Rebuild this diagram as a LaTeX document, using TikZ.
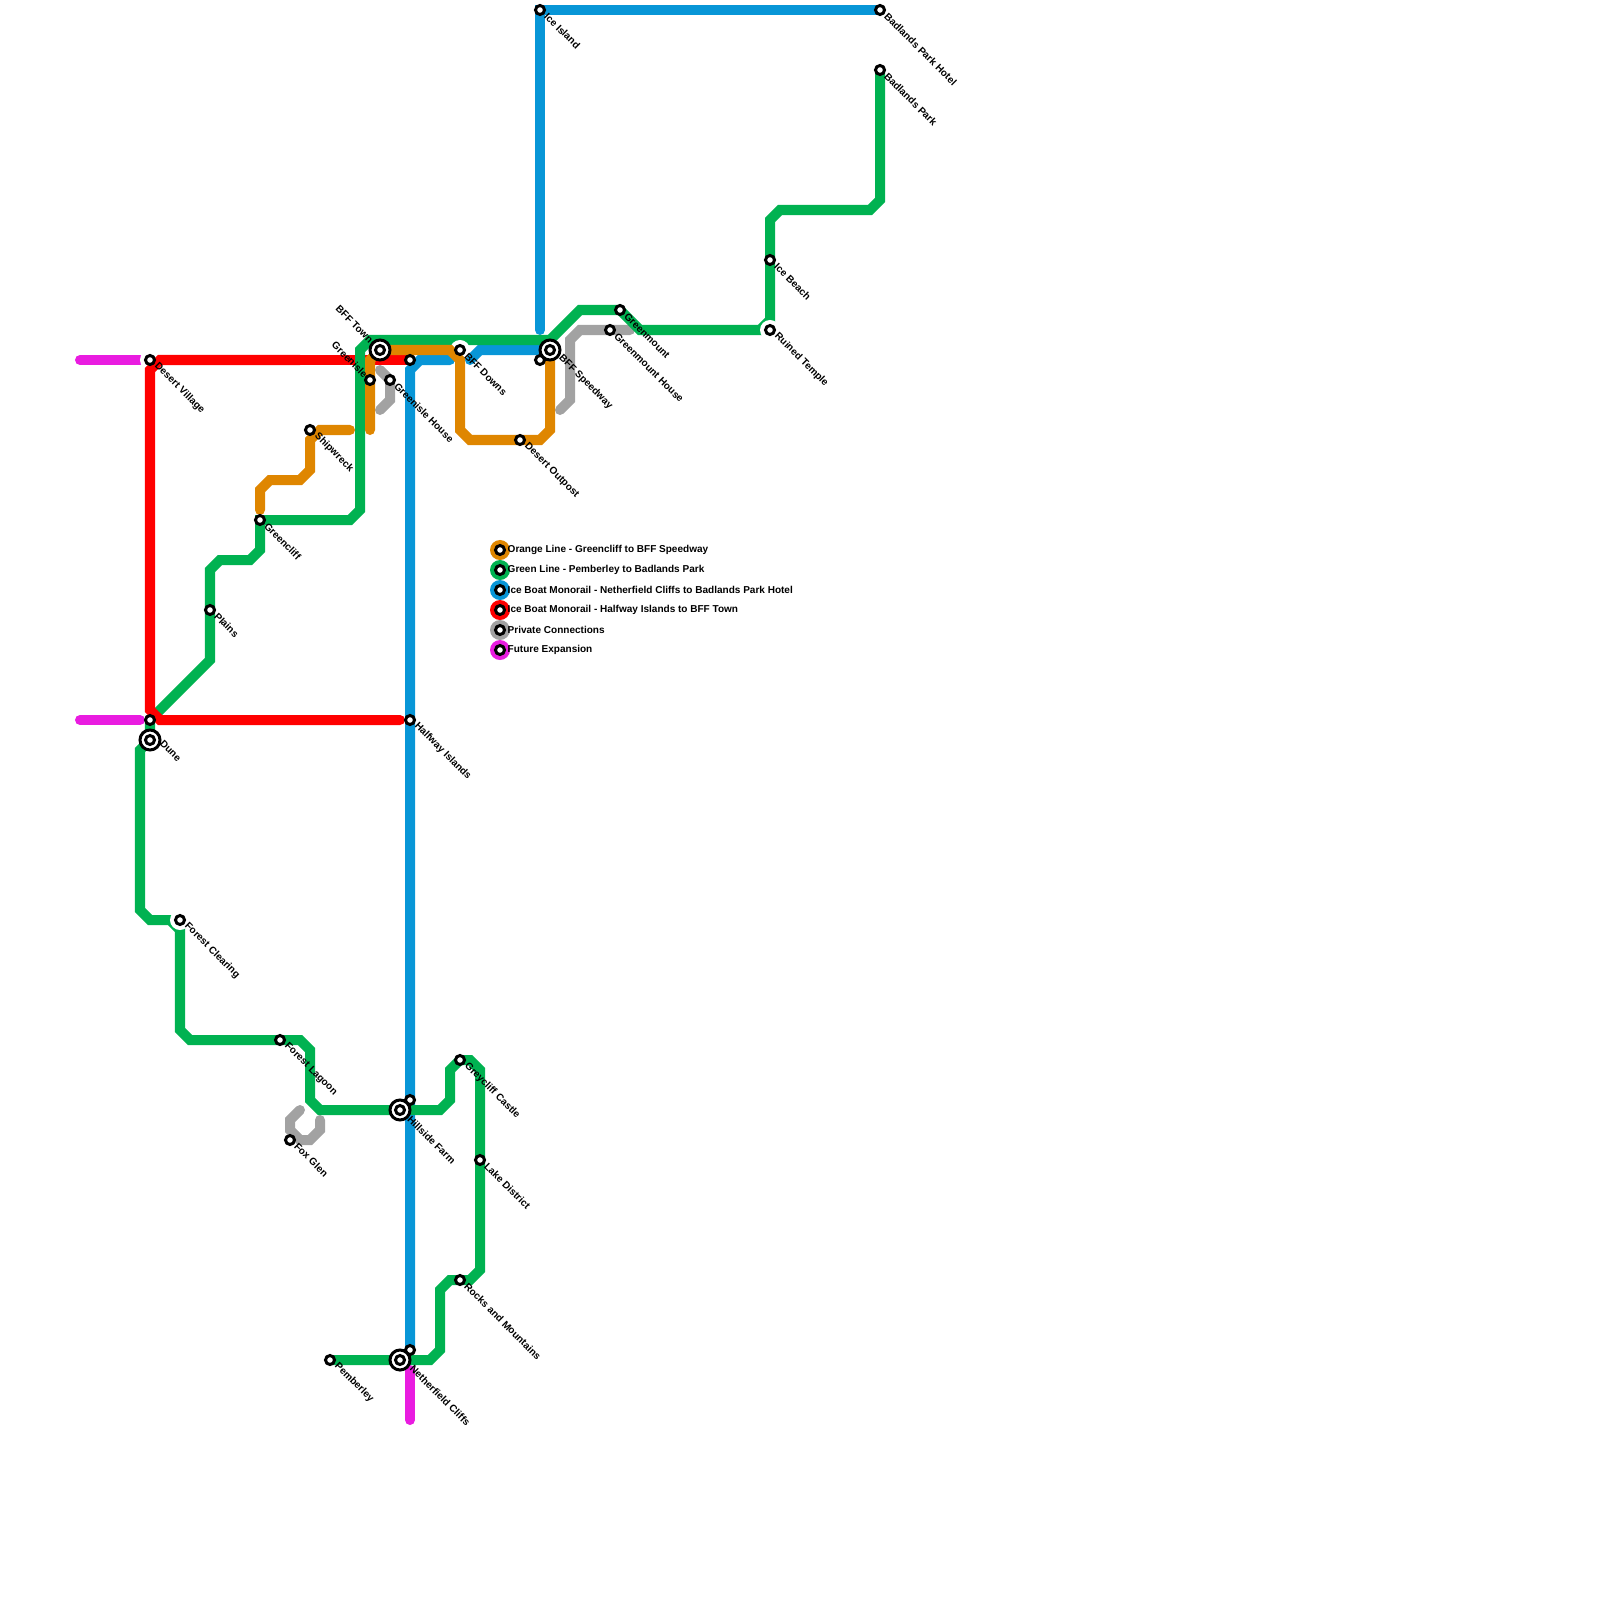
\documentclass[tikz,border=0pt]{standalone}
\usepackage{fontspec}
\setmainfont{Liberation Sans}
\usetikzlibrary{backgrounds}
\definecolor{orangeln}{HTML}{DF8600}
\definecolor{greenln}{HTML}{00B251}
\definecolor{blueln}{HTML}{0896D7}
\definecolor{redln}{HTML}{FF0000}
\definecolor{grayln}{HTML}{A2A2A2}
\definecolor{pinkln}{HTML}{E91CE0}
\tikzset{
  stn/.style={circle, draw=black, fill=white, line width=0.03cm,
              inner sep=0pt, minimum size=0.09cm},
  bigstn/.style={circle, draw=black, fill=white, line width=0.03cm,
              inner sep=0pt, minimum size=0.2cm},
  keydot/.style={circle, fill=#1, inner sep=0pt, minimum size=0.2cm},
  stnlabel/.style={font=\fontsize{2.85}{3.4}\selectfont\bfseries, inner sep=0pt,
              rotate=-45, anchor=west, xshift=0.07cm, yshift=0.01cm},
  stnlabelb/.style={font=\fontsize{2.85}{3.4}\selectfont\bfseries, inner sep=0pt,
              rotate=-45, anchor=east},
  keylabel/.style={font=\fontsize{2.85}{3.4}\selectfont\bfseries, inner sep=0pt,
              anchor=west, xshift=0.07cm},
  halo/.style={circle, fill=white, inner sep=0pt, minimum size=0.2cm},
  ln/.style={line width=0.1cm, line cap=round},
}
\begin{document}
\begin{tikzpicture}[x=0.01cm, y=-0.01cm]
    \useasboundingbox (0,0) rectangle (1600,1600);
    %% stations
    \node[stn] (desertvillage) at (150,360) {};
    \node[stn] (halfway) at (410,720) {};
    \node[stn] (dunetop) at (150,720) {};
    \node[bigstn] (dune) at (150,740) {};
    \node[stn] (dunein) at (150,740) {};
    \node[stn] (plains) at (210,610) {};
    \node[stn] (greencliff) at (260,520) {};
    \node[stn] (shipwreck) at (310,430) {};
    \node[bigstn] (bfftown) at (380,350) {};
    \node[stn] (bfftownin) at (380,350) {};
    \node[stn] (greenisle) at (370,380) {};
    \node[stn] (greenislehouse) at (390,380) {};
    \node[stn] (bfftownblue) at (410,360) {};
    \node[stn] (bffdowns) at (460,350) {};
    \node[stn] (desertoutpost) at (520,440) {};
    \node[stn] (speedwayblue) at (540,360) {};
    \node[bigstn] (speedway) at (550,350) {};
    \node[stn] (speedwayin) at (550,350) {};
    \node[stn] (iceisland) at (540,10) {};
    \node[stn] (hotel) at (880,10) {};
    \node[stn] (badlands) at (880,70) {};
    \node[stn] (icebeach) at (770,260) {};
    \node[stn] (ruined) at (770,330) {};
    \node[stn] (greenmount) at (620,310) {};
    \node[stn] (greenmounthouse) at (610,330) {};
    \node[stn] (forestclearing) at (180,920) {};
    \node[stn] (forestlagoon) at (280,1040) {};
    \node[stn] (foxglen) at (290,1140) {};
    \node[stn] (hillsideblue) at (410,1100) {};
    \node[bigstn] (hillside) at (400,1110) {};
    \node[stn] (hillsidein) at (400,1110) {};
    \node[stn] (greycliff) at (460,1060) {};
    \node[stn] (lakedistrict) at (480,1160) {};
    \node[stn] (rocks) at (460,1280) {};
    \node[stn] (netherblue) at (410,1350) {};
    \node[bigstn] (nether) at (400,1360) {};
    \node[stn] (netherin) at (400,1360) {};
    \node[stn] (pemberley) at (330,1360) {};
    %% free line ends
    \coordinate (pinkw) at (80,360);
    \coordinate (pinkww) at (80,720);
    \coordinate (pinke) at (140,360);
    \coordinate (pinkee) at (140,720);
    \coordinate (pinkn) at (410,1370);
    \coordinate (pinks) at (410,1420);
    \coordinate (redmid) at (300,360);
    \coordinate (redend) at (400,720);
    \coordinate (orangea) at (350,430);
    \coordinate (orangeb) at (260,510);
    \coordinate (orangec) at (370,430);
    \coordinate (grayb) at (380,370);
    \coordinate (grayc) at (380,410);
    \coordinate (grayd) at (560,410);
    \coordinate (graye) at (630,330);
    \coordinate (grayf) at (300,1110);
    \coordinate (grayg) at (320,1120);
    \coordinate (bluea) at (540,330);
    \coordinate (blueb) at (450,360);
    \coordinate (bluec) at (470,360);
    %% lines, behind the stations
    \begin{pgfonlayer}{background}
      \draw[ln, pinkln] (pinkw)--(pinke);
      \draw[ln, pinkln] (pinkww)--(pinkee);
      \draw[ln, pinkln] (pinkn)--(pinks);
      \draw[ln, grayln] (grayb)--(390,380)--(390,400)--(grayc);
      \draw[ln, grayln] (grayd)--(570,400)--(570,340)--(580,330)--(graye);
      \draw[ln, grayln] (grayf)--(290,1120)--(290,1130)--(300,1140)--(310,1140)--(320,1130)--(grayg);
      \draw[ln, redln] (bfftownblue.center)--(redmid);
      \draw[ln, blueln] (netherblue.center)--(hillsideblue.center)--(halfway.center)--(410,370)--(420,360)--(blueb);
      \draw[ln, blueln] (bluec)--(480,350)--(speedway.center);
      \draw[ln, blueln] (bluea)--(iceisland.center)--(hotel.center);
      \draw[ln, greenln] (pemberley.center)--(nether.center)--(430,1360)--(440,1350)--(440,1290)--(450,1280)
        --(rocks.center)--(470,1280)--(480,1270)--(lakedistrict.center)--(480,1070)--(470,1060)
        --(greycliff.center)--(450,1070)--(450,1100)--(440,1110)--(hillside.center)--(320,1110)
        --(310,1100)--(310,1050)--(300,1040)--(forestlagoon.center)--(190,1040)--(180,1030)
        --(180,930)--(170,920)--(150,920)--(140,910)--(140,750)--(dune.center)--(dunetop.center)
        --(210,660)--(plains.center)--(210,570)--(220,560)--(250,560)--(260,550)--(greencliff.center)
        --(350,520)--(360,510)--(360,350)--(370,340)--(550,340)--(580,310)--(greenmount.center)
        --(640,330)--(760,330)--(770,320)--(icebeach.center)--(770,220)--(780,210)--(870,210)--(880,200)
        --(badlands.center);
      \node[halo] (halodesert) at (desertvillage) {};
      \node[halo] (halodowns) at (bffdowns) {};
      \node[halo] (haloclearing) at (forestclearing) {};
      \node[halo] (haloruined) at (ruined) {};
      \draw[ln, redln] (redmid)--(160,360)--(150,370)--(150,710)--(160,720)--(redend);
      \draw[ln, orangeln] (orangea)--(320,430)--(310,440)--(310,470)--(300,480)--(270,480)--(260,490)--(orangeb);
      \draw[ln, orangeln] (orangec)--(370,360)--(bfftown.center)--(450,350)--(460,360)--(460,430)--(470,440)
        --(desertoutpost.center)--(540,440)--(550,430)--(speedway.center);
    \end{pgfonlayer}
    %% labels
    \node[stnlabel] (lbdesert) at (desertvillage) {Desert Village};
    \node[stnlabel] (lbhalfway) at (halfway) {Halfway Islands};
    \node[stnlabel, xshift=0.02cm, yshift=0.06cm] (lbdune) at (dune) {Dune};
    \node[stnlabel] (lbplains) at (plains) {Plains};
    \node[stnlabel] (lbgreencliff) at (greencliff) {Greencliff};
    \node[stnlabel] (lbshipwreck) at (shipwreck) {Shipwreck};
    \node[stnlabelb, xshift=-0.118cm, yshift=0.002cm] (lbbfftown) at (bfftown) {BFF Town};
    \node[stnlabelb, xshift=-0.053cm, yshift=0.002cm] (lbgreenisle) at (greenisle) {Greenisle};
    \node[stnlabel] (lbhouse) at (greenislehouse) {Greenisle House};
    \node[stnlabel] (lbdowns) at (bffdowns) {BFF Downs};
    \node[stnlabel] (lboutpost) at (desertoutpost) {Desert Outpost};
    \node[stnlabel, xshift=0.046cm, yshift=0.016cm] (lbspeedway) at (speedway) {BFF Speedway};
    \node[stnlabel] (lbice) at (iceisland) {Ice Island};
    \node[stnlabel] (lbhotel) at (hotel) {Badlands Park Hotel};
    \node[stnlabel] (lbbadlands) at (badlands) {Badlands Park};
    \node[stnlabel] (lbbeach) at (icebeach) {Ice Beach};
    \node[stnlabel] (lbruined) at (ruined) {Ruined Temple};
    \node[stnlabel] (lbgreenmount) at (greenmount) {Greenmount};
    \node[stnlabel] (lbmounthouse) at (greenmounthouse) {Greenmount House};
    \node[stnlabel] (lbclearing) at (forestclearing) {Forest Clearing};
    \node[stnlabel] (lblagoon) at (forestlagoon) {Forest Lagoon};
    \node[stnlabel] (lbfox) at (foxglen) {Fox Glen};
    \node[stnlabel, xshift=0.045cm, yshift=0cm] (lbhillside) at (hillside) {Hillside Farm};
    \node[stnlabel] (lbgrey) at (greycliff) {Greycliff Castle};
    \node[stnlabel] (lblake) at (lakedistrict) {Lake District};
    \node[stnlabel] (lbrocks) at (rocks) {Rocks and Mountains};
    \node[stnlabel, xshift=0.058cm, yshift=0.022cm] (lbnether) at (nether) {Netherfield Cliffs};
    \node[stnlabel] (lbpemberley) at (pemberley) {Pemberley};
    %% key
    \node[keydot=orangeln] (keya) at (500,550) {};
    \node[keydot=greenln] (keyb) at (500,570) {};
    \node[keydot=blueln] (keyc) at (500,590) {};
    \node[keydot=redln] (keyd) at (500,610) {};
    \node[keydot=grayln] (keye) at (500,630) {};
    \node[keydot=pinkln] (keyf) at (500,650) {};
    \node[stn] (keyain) at (keya) {};
    \node[stn] (keybin) at (keyb) {};
    \node[stn] (keycin) at (keyc) {};
    \node[stn] (keydin) at (keyd) {};
    \node[stn] (keyein) at (keye) {};
    \node[stn] (keyfin) at (keyf) {};
    \node[keylabel] (lba) at (keya) {Orange Line - Greencliff to BFF Speedway};
    \node[keylabel] (lbb) at (keyb) {Green Line - Pemberley to Badlands Park};
    \node[keylabel] (lbc) at (keyc) {Ice Boat Monorail - Netherfield Cliffs to Badlands Park Hotel};
    \node[keylabel] (lbd) at (keyd) {Ice Boat Monorail - Halfway Islands to BFF Town};
    \node[keylabel] (lbe) at (keye) {Private Connections};
    \node[keylabel] (lbf) at (keyf) {Future Expansion};
\end{tikzpicture}
\end{document}
